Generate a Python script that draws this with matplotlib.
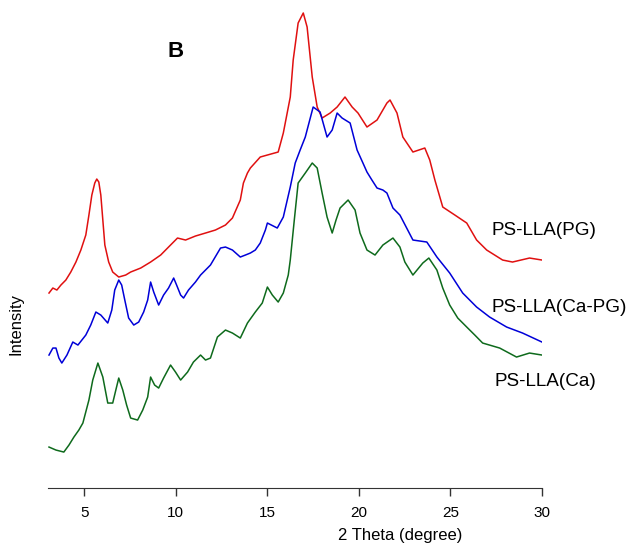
import matplotlib
matplotlib.use('Agg')
import matplotlib.pyplot as plt
import numpy as np

plt.rcParams['font.family'] = ['Liberation Sans', 'DejaVu Sans']

# PS-LLA(PG) - red
red_x = [3.07, 3.28, 3.50, 3.72, 3.99, 4.26, 4.54, 4.81, 5.08, 5.25, 5.41, 5.57, 5.68, 5.79, 5.90,
         6.01, 6.12, 6.33, 6.55, 6.88, 7.26, 7.53, 8.08, 8.62, 9.17, 9.71, 10.09, 10.53, 11.07,
         11.62, 12.16, 12.71, 13.09, 13.52, 13.69, 13.91, 14.07, 14.61, 15.00, 15.59, 15.87,
         16.25, 16.41, 16.68, 16.96, 17.17, 17.45, 17.72, 17.99, 18.43, 18.81, 19.24, 19.63,
         19.95, 20.44, 20.99, 21.53, 21.70, 22.08, 22.40, 22.95, 23.60, 23.87, 24.15, 24.58,
         25.24, 25.89, 26.43, 26.98, 27.85, 28.39, 29.32, 30.0]
red_y = [195, 200, 198, 203, 208, 216, 226, 238, 253, 273, 293, 305, 309, 306, 293,
         268, 243, 226, 216, 211, 213, 216, 220, 226, 233, 243, 250, 248, 252,
         255, 258, 263, 270, 288, 305, 315, 320, 331, 333, 336, 355,
         391, 428, 465, 475, 461, 411, 381, 370, 375, 381, 391, 381,
         375, 361, 368, 385, 388, 375, 351, 336, 340, 328, 308, 281,
         273, 265, 248, 238, 228, 226, 230, 228]

# PS-LLA(Ca-PG) - blue
blue_x = [3.07, 3.28, 3.45, 3.61, 3.77, 4.05, 4.37, 4.65, 5.08, 5.35, 5.63, 5.90, 6.28, 6.50,
          6.66, 6.88, 7.04, 7.21, 7.42, 7.70, 7.97, 8.24, 8.46, 8.62, 8.79, 9.06, 9.33, 9.60,
          9.88, 10.04, 10.26, 10.42, 10.69, 11.07, 11.35, 11.89, 12.44, 12.71, 13.09, 13.52,
          13.80, 14.07, 14.34, 14.61, 14.89, 15.00, 15.54, 15.87, 16.25, 16.52, 16.79, 17.07,
          17.50, 17.88, 18.26, 18.54, 18.81, 19.08, 19.52, 19.90, 20.22, 20.44, 20.71, 20.99,
          21.31, 21.53, 21.86, 22.24, 22.95, 23.71, 24.26, 24.96, 25.67, 26.43, 27.14, 28.07,
          28.94, 30.0]
blue_y = [133, 140, 140, 130, 125, 133, 146, 143, 153, 163, 176, 173, 165, 178,
          198, 208, 203, 188, 170, 163, 166, 176, 188, 206, 196, 183, 193, 200,
          210, 203, 193, 190, 198, 206, 213, 223, 240, 241, 238, 231,
          233, 235, 238, 245, 258, 265, 260, 271, 301, 325, 338, 351,
          381, 376, 351, 358, 375, 370, 365, 338, 325, 316, 308, 300,
          298, 295, 280, 273, 248, 246, 231, 215, 195, 181, 171, 161,
          155, 146]

# PS-LLA(Ca) - green
green_x = [3.07, 3.45, 3.88, 4.16, 4.43, 4.70, 4.92, 5.25, 5.46, 5.74, 6.01, 6.28, 6.55, 6.72,
           6.88, 7.10, 7.31, 7.53, 7.91, 8.19, 8.46, 8.62, 8.84, 9.06, 9.33, 9.71, 9.98, 10.26,
           10.64, 10.96, 11.35, 11.62, 11.89, 12.27, 12.71, 13.09, 13.52, 13.91, 14.34, 14.72,
           15.00, 15.27, 15.59, 15.87, 16.14, 16.25, 16.47, 16.68, 17.07, 17.45, 17.72, 17.99,
           18.26, 18.54, 18.75, 18.97, 19.41, 19.79, 20.06, 20.44, 20.88, 21.31, 21.86, 22.24,
           22.51, 22.95, 23.49, 23.82, 24.26, 24.58, 24.96, 25.40, 25.89, 26.33, 26.76, 27.69,
           28.61, 29.32, 30.0]
green_y = [41, 38, 36, 43, 51, 58, 65, 88, 108, 125, 111, 85, 85, 98,
           110, 98, 83, 70, 68, 78, 91, 111, 103, 100, 110, 123, 116, 108,
           116, 126, 133, 128, 130, 151, 158, 155, 150, 165, 176, 185,
           201, 193, 186, 195, 213, 228, 268, 305, 315, 325, 320, 295,
           271, 255, 268, 280, 288, 278, 255, 238, 233, 243, 250, 241,
           226, 213, 225, 230, 218, 200, 183, 170, 161, 153, 145, 140,
           131, 135, 133]

labels = ['PS-LLA(PG)', 'PS-LLA(Ca-PG)', 'PS-LLA(Ca)']
colors = ['#e01010', '#0000d8', '#0e6a1c']

fig = plt.figure(figsize=(6.28, 5.49), dpi=100)
ax = fig.add_axes([0.076, 0.111, 0.787, 0.889])

ax.plot(red_x, red_y, color=colors[0], lw=1.1)
ax.plot(blue_x, blue_y, color=colors[1], lw=1.1)
ax.plot(green_x, green_y, color=colors[2], lw=1.1)

ax.set_xlim(3, 30)
ax.set_ylim(0, 488)
ax.set_xticks([5, 10, 15, 20, 25, 30])
ax.set_yticks([])
for s in ['left', 'top', 'right']:
    ax.spines[s].set_visible(False)
ax.spines['bottom'].set_color('#333333')
ax.tick_params(axis='x', direction='out', length=6, width=1, colors='#333333',
               labelcolor='black', labelsize=11, pad=7)

ax.set_xlabel('2 Theta (degree)', fontsize=12)
ax.xaxis.set_label_coords(0.713, -0.082)
ax.set_ylabel('Intensity', fontsize=12)
ax.yaxis.set_label_coords(-0.05, 0.336)

ax.text(27.27, 258, labels[0], fontsize=13.6, ha='left', va='center')
ax.text(27.27, 181, labels[1], fontsize=13.6, ha='left', va='center')
ax.text(27.38, 107, labels[2], fontsize=13.6, ha='left', va='center')
ax.text(9.98, 437, 'B', fontsize=16, fontweight='bold', ha='center', va='center')

fig.savefig('out.png', dpi=100)
